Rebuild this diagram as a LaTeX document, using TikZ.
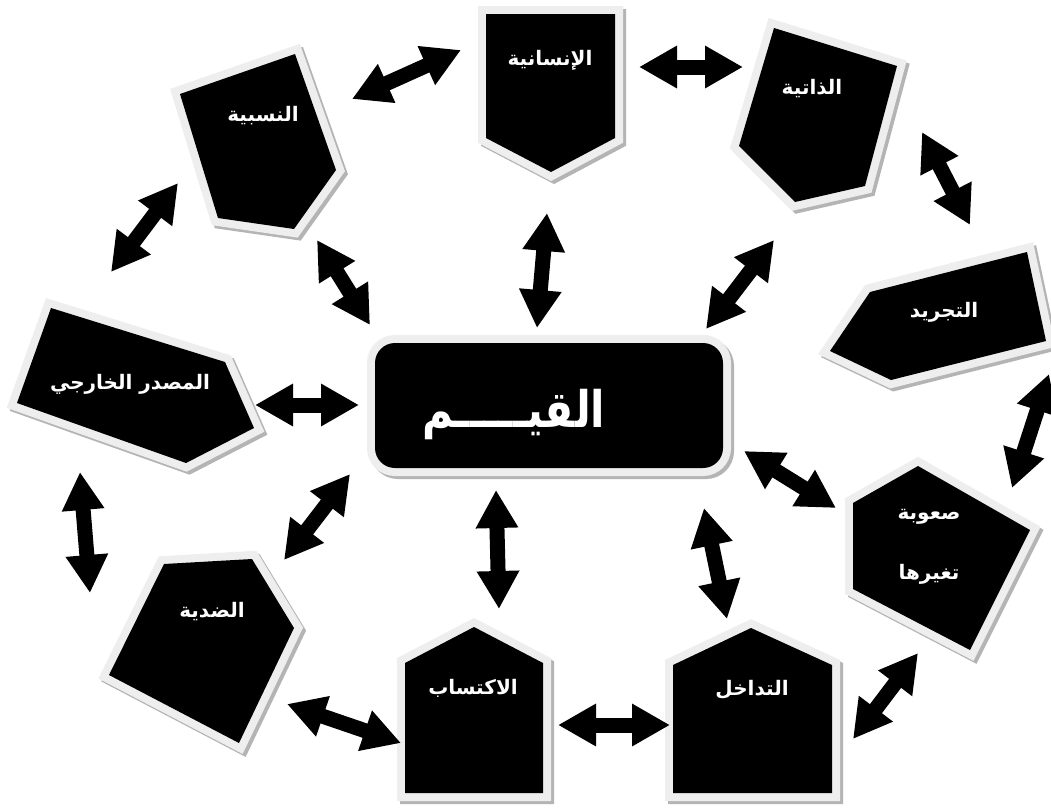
\documentclass[tikz,border=0pt]{standalone}
\usepackage{fontspec}
\usetikzlibrary{arrows.meta}
\TeXXeTstate=1
\newfontfamily\arabicfont[Script=Arabic]{DejaVu Sans}
\newcommand\ar[1]{\beginR #1\endR}
\definecolor{bordergray}{HTML}{EEEEEE}
\definecolor{shadowgray}{HTML}{B4B4B4}
\tikzset{
  shadowpoly/.style={draw=shadowgray, fill=shadowgray, line width=16pt, line join=miter, shift={(3,3)}},
  borderpoly/.style={draw=bordergray, fill=bordergray, line width=16pt, line join=miter},
  blackpoly/.style={fill=black},
  lbl/.style={text=white, font=\arabicfont\bfseries\fontsize{20}{24}\selectfont, inner sep=0pt, align=center},
  biglbl/.style={text=white, font=\arabicfont\bfseries\fontsize{42}{50}\selectfont, inner sep=0pt},
  dblarrow/.style={line width=15pt, {Triangle[length=38pt,width=40pt]}-{Triangle[length=38pt,width=40pt]}},
}
\newcommand\pent[1]{%
  \draw[shadowpoly] #1 -- cycle;
  \draw[borderpoly] #1 -- cycle;
  \fill[blackpoly] #1 -- cycle;}
\begin{document}
\begin{tikzpicture}[x=1pt,y=-1pt]
\useasboundingbox[fill=white] (0,0) rectangle (1051,809);
% shapes
\pent{(486,14) -- (615,14) -- (615,138) -- (551,172) -- (486,138)}
\pent{(774,28) -- (897,66) -- (865,186) -- (795,202) -- (739,146)}
\pent{(870,292) -- (1027,252) -- (1046,341) -- (891,380) -- (830,351)}
\pent{(853,503) -- (918,466) -- (1030,530) -- (970,650) -- (853,589)}
\pent{(673,665) -- (751,628) -- (832,665) -- (832,793) -- (673,793)}
\pent{(405,663) -- (474,627) -- (543,663) -- (543,793) -- (405,793)}
\pent{(164,564) -- (252,559) -- (294,628) -- (239,743) -- (109,675)}
\pent{(51,308) -- (225,362) -- (254,428) -- (186,463) -- (17,403)}
\pent{(180,94) -- (295,54) -- (336,170) -- (294,229) -- (218,218)}
% centre
\draw[shadowpoly, rounded corners=20pt] (375,343) rectangle (723,468);
\draw[borderpoly, rounded corners=20pt] (375,343) rectangle (723,468);
\fill[blackpoly, rounded corners=20pt] (375,343) rectangle (723,468);
% labels
\node[biglbl] (qiyam) at (514,414) {\scalebox{1}[1.2]{\ar{القيـــــم}}};
\node[lbl] (insaniya) at (550,60) {\ar{الإنسانية}};
\node[lbl] (dhatiya) at (812,89) {\ar{الذاتية}};
\node[lbl] (tajrid) at (944,312) {\ar{التجريد}};
\node[lbl] (suuba) at (929,547) {\ar{صعوبة}\\[36pt]\ar{تغيرها}};
\node[lbl] (tadakhul) at (752,690) {\ar{التداخل}};
\node[lbl] (iktisab) at (473,688) {\ar{الاكتساب}};
\node[lbl] (diddiya) at (212,612) {\ar{الضدية}};
\node[lbl] (masdar) at (130,384) {\ar{المصدر الخارجي}};
\node[lbl] (nisbiya) at (263,116) {\ar{النسبية}};
% arrow end points
\coordinate (a1) at (352,99);  \coordinate (a2) at (461,50);
\coordinate (b1) at (639,67);  \coordinate (b2) at (743,67);
\coordinate (c1) at (922,132); \coordinate (c2) at (970,225);
\coordinate (d1) at (1049,374);\coordinate (d2) at (1012,488);
\coordinate (e1) at (918,653); \coordinate (e2) at (853,739);
\coordinate (f1) at (558,725); \coordinate (f2) at (670,725);
\coordinate (g1) at (287,704); \coordinate (g2) at (401,743);
\coordinate (h1) at (80,472);  \coordinate (h2) at (90,593);
\coordinate (i1) at (111,272); \coordinate (i2) at (178,183);
\coordinate (j1) at (317,240); \coordinate (j2) at (370,325);
\coordinate (k1) at (547,213); \coordinate (k2) at (537,328);
\coordinate (l1) at (774,240); \coordinate (l2) at (706,329);
\coordinate (m1) at (255,405); \coordinate (m2) at (359,405);
\coordinate (n1) at (744,451); \coordinate (n2) at (836,508);
\coordinate (o1) at (704,508); \coordinate (o2) at (727,619);
\coordinate (p1) at (496,490); \coordinate (p2) at (499,609);
\coordinate (q1) at (350,474); \coordinate (q2) at (284,560);
\foreach \s in {a,b,c,d,e,f,g,h,i,j,k,l,m,n,o,p,q}
  \draw[dblarrow] (\s1) -- (\s2);
\end{tikzpicture}
\end{document}
